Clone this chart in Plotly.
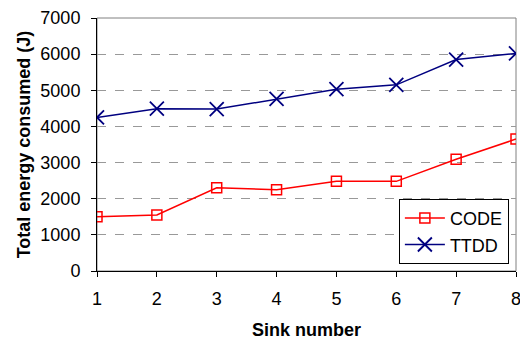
import plotly.graph_objects as go

sinks = [1, 2, 3, 4, 5, 6, 7, 8]
code_vals = [1500, 1550, 2300, 2250, 2480, 2480, 3090, 3650]
ttdd_vals = [4250, 4490, 4480, 4760, 5030, 5150, 5850, 6020]
y_ticks = [0, 1000, 2000, 3000, 4000, 5000, 6000, 7000]

fig = go.Figure()
fig.add_trace(go.Scatter(
    x=sinks, y=code_vals, name="CODE", mode="lines+markers",
    line=dict(color="#ff0000", width=1.5),
    marker=dict(symbol="square-open", size=10, color="#ff0000", line=dict(width=1.5)),
))
fig.add_trace(go.Scatter(
    x=sinks, y=ttdd_vals, name="TTDD", mode="lines+markers",
    line=dict(color="#000080", width=1.5),
    marker=dict(symbol="x-thin-open", size=14, color="#000080", line=dict(width=1.8, color="#000080")),
))

fig.update_layout(
    width=520, height=341,
    margin=dict(l=97, r=4, t=18, b=70),
    paper_bgcolor="white", plot_bgcolor="white",
    font=dict(family="Arial, Liberation Sans, sans-serif", size=18, color="black"),
    showlegend=True,
    legend=dict(
        x=0.983, y=0.285, xanchor="right", yanchor="top",
        bgcolor="white", bordercolor="black", borderwidth=1,
        font=dict(size=18), itemwidth=40, tracegroupgap=2,
    ),
    shapes=[dict(type="rect", xref="paper", yref="paper", x0=0, x1=1, y0=0, y1=1,
                 line=dict(color="#808080", width=1), layer="below")],
)
fig.update_xaxes(
    range=[1, 8], tickvals=sinks, ticks="outside", ticklen=5, tickcolor="black",
    ticklabelstandoff=6, ticklabeloverflow="allow", automargin=False,
    showline=True, linecolor="black", linewidth=1, showgrid=False, zeroline=False,
    title=dict(text="<b>Sink number</b>", font=dict(size=18), standoff=15),
)
fig.update_yaxes(
    range=[0, 7000], tickvals=y_ticks, ticks="outside", ticklen=5, tickcolor="black",
    ticklabelstandoff=7, automargin=False,
    showline=True, linecolor="black", linewidth=1, zeroline=False,
    showgrid=True, gridcolor="#999999", griddash="dash", gridwidth=1,
    title=dict(text="<b>Total energy consumed (J)</b>", font=dict(size=18), standoff=5),
)

fig.write_html("out.html")
